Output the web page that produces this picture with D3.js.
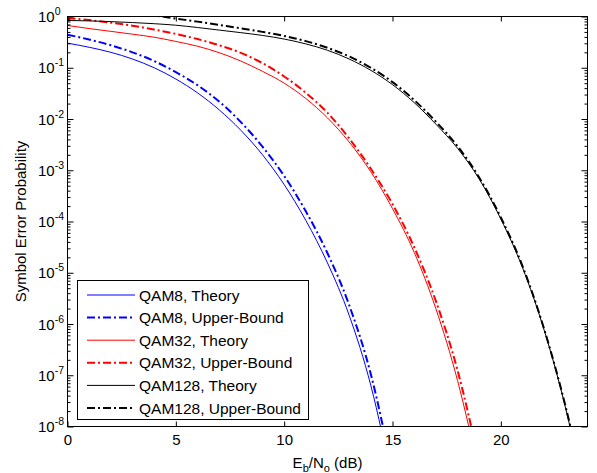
<!DOCTYPE html>
<html>
<head>
<meta charset="utf-8">
<script src="https://cdn.jsdelivr.net/npm/d3@7"></script>
<style>
  html, body { margin: 0; padding: 0; background: #fff; }
  svg { display: block; font-family: "Liberation Sans", Arial, sans-serif; }
</style>
</head>
<body>
<svg id="chart" width="597" height="473"></svg>
<script>
// ---- data ----
const ebno = [0,1,2,3,4,5,6,7,8,9,10,11,12,13,14,15,16,17,18,19,20,21,22,23,24];

const qam8Theory = [0.302,0.251,0.200,0.148,0.100,0.0603,0.0324,0.0151,6.03e-3,2.00e-3,5.25e-4,1.05e-4,1.55e-5,1.48e-6,6.31e-8,7.94e-10];
const qam8Upper  = [0.441,0.355,0.275,0.200,0.135,0.0822,0.0457,0.0219,8.71e-3,2.88e-3,7.76e-4,1.58e-4,2.40e-5,2.34e-6,1.05e-7,1.26e-9];

const qam32Theory = [0.668,0.582,0.513,0.452,0.394,0.326,0.263,0.197,0.135,0.0851,0.0501,0.0251,0.0105,3.55e-3,9.33e-4,1.78e-4,2.51e-5,2.00e-6,7.94e-8,1.26e-9];
const qam32Upper  = [0.933,0.851,0.759,0.661,0.556,0.457,0.363,0.275,0.195,0.123,0.0676,0.0324,0.0132,4.17e-3,1.07e-3,2.19e-4,3.16e-5,2.82e-6,1.26e-7,2.00e-9];

const qam128Theory = [0.836,0.822,0.794,0.762,0.724,0.676,0.610,0.543,0.484,0.427,0.363,0.292,0.219,0.148,0.0891,0.0468,0.0209,7.94e-3,2.69e-3,6.76e-4,1.12e-4,1.26e-5,7.59e-7,2.19e-8,2.51e-10];
const qam128Upper  = [1.82,1.58,1.38,1.20,1.05,0.912,0.794,0.684,0.589,0.501,0.417,0.331,0.245,0.166,0.100,0.0525,0.0234,8.91e-3,2.95e-3,7.24e-4,1.20e-4,1.35e-5,7.94e-7,2.34e-8,3.16e-10];

const seriesNames = ["QAM8, Theory","QAM8, Upper-Bound","QAM32, Theory","QAM32, Upper-Bound","QAM128, Theory","QAM128, Upper-Bound"];
const seriesValues = [qam8Theory, qam8Upper, qam32Theory, qam32Upper, qam128Theory, qam128Upper];
const seriesColors = ["#0000ff","#0000ff","#ff0000","#ff0000","#000000","#000000"];
const seriesDashed = [false,true,false,true,false,true];

const xTicks = [0,5,10,15,20];
const yExponents = [0,-1,-2,-3,-4,-5,-6,-7,-8];

// ---- layout ----
const L = 67.5, R = 587.5, T = 16.5, B = 426.5;
const svg = d3.select("#chart");

const x = d3.scaleLinear().domain([0,24]).range([L,R]);
const y = d3.scaleLog().domain([1e-8,1]).range([B,T]);

svg.append("defs").append("clipPath").attr("id","plotclip")
  .append("rect").attr("x",L).attr("y",T).attr("width",R-L).attr("height",B-T);

svg.append("rect").attr("x",L).attr("y",T).attr("width",R-L).attr("height",B-T).attr("fill","#fff");

// curves
const line = d3.line()
  .x((d,i)=>x(ebno[i]))
  .y(d=>y(d))
  .curve(d3.curveMonotoneX);

const gLines = svg.append("g").attr("clip-path","url(#plotclip)");
seriesValues.forEach((vals,k)=>{
  gLines.append("path")
    .attr("d", line(vals))
    .attr("fill","none")
    .attr("stroke", seriesColors[k])
    .attr("stroke-width", seriesDashed[k] ? 2 : 1)
    .attr("stroke-dasharray", seriesDashed[k] ? "8,3,2,3" : null);
});

// axes (inward ticks)
const minorVals = [];
yExponents.forEach(e=>{ if (e>-8) for (let j=2;j<=9;j++) minorVals.push(j*Math.pow(10,e-1)); });
const majorVals = yExponents.map(e=>Math.pow(10,e));

function styleAxis(g){
  g.select(".domain").remove();
  g.selectAll("line").attr("stroke","#000").attr("stroke-width",1);
}

svg.append("g").attr("transform",`translate(0,${B})`)
  .call(d3.axisBottom(x).tickValues(xTicks).tickSize(-5).tickPadding(8).tickFormat(d3.format("d")))
  .call(styleAxis)
  .call(g=>g.selectAll("text").attr("font-size",15).attr("fill","#000").attr("font-family","Liberation Sans, Arial, sans-serif"));

svg.append("g").attr("transform",`translate(0,${T})`)
  .call(d3.axisTop(x).tickValues(xTicks).tickSize(-5).tickFormat(""))
  .call(styleAxis);

svg.append("g").attr("transform",`translate(${L},0)`)
  .call(d3.axisLeft(y).tickValues(majorVals).tickSize(-6).tickFormat(""))
  .call(styleAxis);
svg.append("g").attr("transform",`translate(${L},0)`)
  .call(d3.axisLeft(y).tickValues(minorVals).tickSize(-3).tickFormat(""))
  .call(styleAxis);
svg.append("g").attr("transform",`translate(${R},0)`)
  .call(d3.axisRight(y).tickValues(majorVals).tickSize(-6).tickFormat(""))
  .call(styleAxis);
svg.append("g").attr("transform",`translate(${R},0)`)
  .call(d3.axisRight(y).tickValues(minorVals).tickSize(-3).tickFormat(""))
  .call(styleAxis);

// y tick labels 10^e
const yl = svg.append("g").attr("font-size",15).attr("fill","#000");
yExponents.forEach(e=>{
  const t = yl.append("text").attr("x",38).attr("y",y(Math.pow(10,e))+5.5);
  t.append("tspan").text("10");
  t.append("tspan").attr("font-size",10.5).attr("dy",-7).text(String(e));
});

// box
svg.append("rect").attr("x",L).attr("y",T).attr("width",R-L).attr("height",B-T)
  .attr("fill","none").attr("stroke","#000").attr("stroke-width",1);

// axis labels
const xl = svg.append("text").attr("x",(L+R)/2).attr("y",468).attr("text-anchor","middle")
  .attr("font-size",15).attr("fill","#000");
xl.append("tspan").text("E");
xl.append("tspan").attr("font-size",11).attr("dy",4).text("b");
xl.append("tspan").attr("dy",-4).text("/N");
xl.append("tspan").attr("font-size",11).attr("dy",4).text("o");
xl.append("tspan").attr("dy",-4).text(" (dB)");

svg.append("text").attr("transform",`translate(26,${(T+B)/2}) rotate(-90)`)
  .attr("text-anchor","middle").attr("font-size",15).attr("fill","#000")
  .text("Symbol Error Probability");

// legend
const lg = svg.append("g");
lg.append("rect").attr("x",77.5).attr("y",280.5).attr("width",231).attr("height",139)
  .attr("fill","#fff").attr("stroke","#000").attr("stroke-width",1);
seriesNames.forEach((name,k)=>{
  const cy = 295 + k*22.6;
  lg.append("line").attr("x1",87).attr("x2",135).attr("y1",cy).attr("y2",cy)
    .attr("stroke",seriesColors[k]).attr("stroke-width",seriesDashed[k]?2:1)
    .attr("stroke-dasharray",seriesDashed[k]?"8,3,2,3":null);
  lg.append("text").attr("x",139).attr("y",cy+5.5).attr("font-size",15.5).attr("fill","#000").text(name);
});
</script>
</body>
</html>
